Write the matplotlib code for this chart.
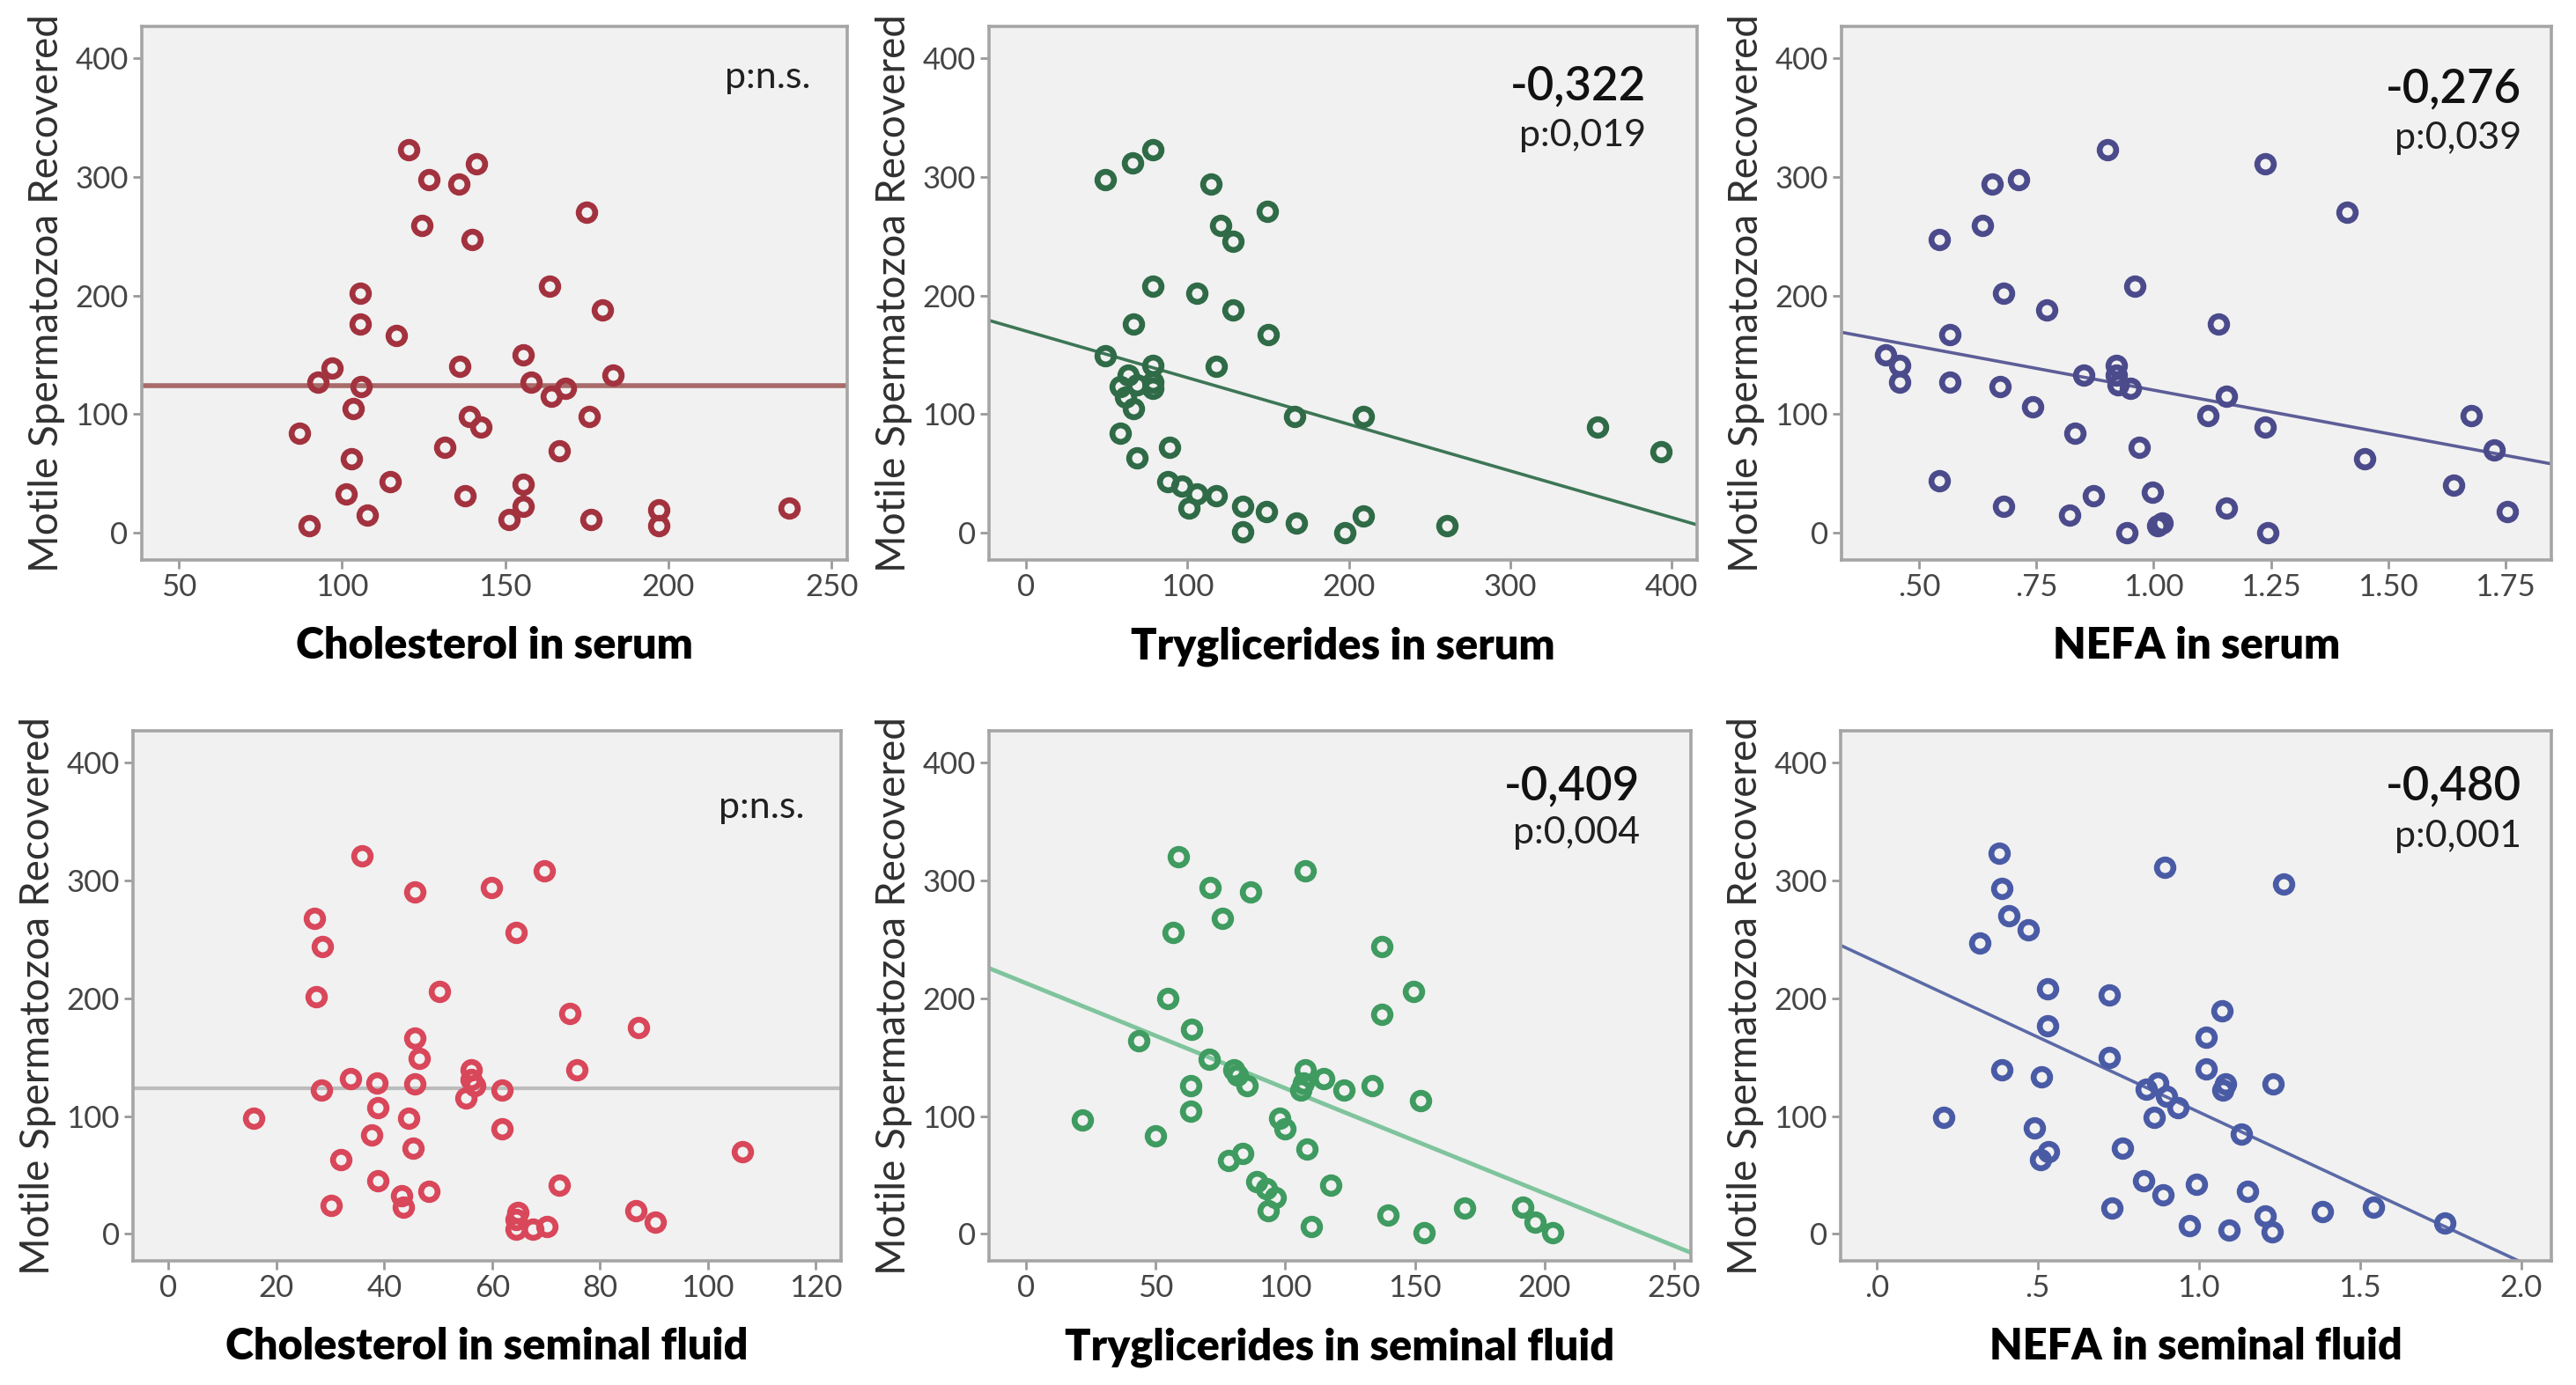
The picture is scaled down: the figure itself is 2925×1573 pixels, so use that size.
import numpy as np
import matplotlib.pyplot as plt
from matplotlib.ticker import FixedLocator, FixedFormatter

plt.rcParams['font.family'] = ['Lato', 'DejaVu Sans']

# ---- data ----
# top row: serum
chol_serum_x = [120.5, 126.7, 135.9, 141.2, 124.5, 139.8, 175, 105.5, 105.5, 116.5, 163.6, 179.8,
                155.5, 97, 92.6, 136, 105.9, 158, 164, 168.3, 183, 103.3, 175.7, 139, 142.4, 86.8,
                131.4, 166.6, 102.9, 114.7, 155.5, 155.5, 101.2, 137.6, 107.8, 196.9, 196.9, 90,
                151.1, 176.2, 237]
chol_serum_y = [323, 298, 294, 311, 259, 247, 270, 202, 176, 166, 208, 188,
                150, 139, 127, 140, 123, 127, 115, 122, 133, 105, 98, 98, 89, 84,
                72, 69, 62, 43, 41, 22, 33, 31, 15, 19, 6, 6,
                11, 11, 21]

tg_serum_x = [48.8, 65.9, 78.8, 114.7, 149.3, 120.7, 128, 78.8, 105.7, 128, 66.3, 150, 48.8,
              78.8, 117.9, 63.5, 58.6, 68.7, 78.8, 78.8, 61.7, 66.3, 166.3, 208.9, 58.6, 88.9,
              68.7, 87.9, 96.6, 106, 117.9, 101.1, 134.3, 148.9, 167.4, 134.3, 197.7, 208.9,
              260.9, 354, 393.4]
tg_serum_y = [298, 312, 323, 294, 271, 259, 246, 208, 202, 188, 176, 167, 149,
              141, 140, 133, 123, 125, 127, 122, 114, 105, 98, 98, 84, 72,
              63, 43, 39, 33, 31, 21, 22, 18, 8, 1, 0, 14,
              6, 89, 68]

nefa_serum_x = [0.902, 1.237, 0.655, 0.712, 0.634, 0.542, 1.412, 0.680, 0.959, 0.772, 1.138,
                0.566, 0.428, 0.458, 0.458, 0.566, 0.673, 0.742, 0.850, 0.920, 0.920, 0.925,
                0.950, 1.156, 1.116, 1.237, 0.832, 0.970, 1.678, 1.726, 1.450, 0.542, 0.680,
                0.871, 0.997, 0.821, 1.156, 0.943, 1.009, 1.018, 1.244, 1.640, 1.754]
nefa_serum_y = [323, 311, 294, 298, 259, 247, 270, 202, 208, 188, 176,
                167, 150, 141, 127, 127, 123, 106, 133, 141, 133, 125,
                122, 115, 99, 89, 84, 72, 99, 70, 62, 44, 22,
                31, 34, 15, 21, 0, 6, 8, 0, 40, 18]

# bottom row: seminal fluid
chol_sem_x = [35.8, 69.6, 45.6, 59.8, 27.1, 28.5, 64.4, 27.4, 50.2, 74.4, 87.1, 45.7, 46.4,
              75.7, 56.1, 56.1, 33.8, 38.6, 45.6, 56.7, 28.3, 61.9, 55.1, 15.8, 38.8, 44.5,
              61.8, 37.6, 45.3, 32.0, 106.4, 38.8, 43.2, 43.5, 48.3, 30.1, 72.5, 64.7, 64.5,
              67.6, 70.1, 64.4, 86.6, 90.3]
chol_sem_y = [321, 308, 290, 294, 268, 244, 256, 201, 206, 187, 175, 166, 149,
              139, 139, 131, 132, 128, 127, 126, 122, 122, 115, 98, 107, 98,
              89, 84, 73, 63, 70, 45, 32, 23, 36, 24, 41, 18, 12,
              4, 6, 4, 20, 10]

tg_sem_x = [58.7, 70.9, 86.7, 107.8, 75.7, 56.7, 137.2, 149.6, 54.8, 137.2, 63.9, 43.5, 70.7,
            80.2, 81.5, 85.2, 63.7, 107.8, 115, 122.6, 133.5, 105.9, 107, 152.2, 63.7, 21.7,
            97.8, 100, 49.8, 108.3, 78, 83.7, 89.1, 92.8, 96.1, 93.5, 117.4, 110.2, 139.8,
            153.5, 169.3, 191.7, 196.5, 203.3]
tg_sem_y = [320, 294, 290, 308, 268, 256, 244, 206, 200, 186, 174, 164, 148,
            139, 135, 126, 126, 139, 132, 122, 126, 122, 128, 113, 104, 97,
            98, 89, 83, 72, 62, 68, 44, 38, 31, 20, 41, 6, 16,
            1, 22, 23, 10, 1]

nefa_sem_x = [0.380, 0.389, 0.895, 1.262, 0.410, 0.471, 0.321, 0.531, 0.723, 1.073, 0.531,
              1.023, 0.723, 0.389, 1.023, 0.511, 1.082, 1.075, 1.230, 0.873, 0.838, 0.901,
              0.934, 0.862, 0.209, 0.489, 1.131, 0.534, 0.510, 0.764, 0.829, 0.993, 0.890,
              1.152, 0.730, 0.970, 1.093, 1.206, 1.229, 1.384, 1.541, 1.764]
nefa_sem_y = [323, 293, 311, 297, 270, 258, 247, 208, 203, 189, 177,
              167, 150, 139, 140, 133, 127, 122, 127, 128, 123, 117,
              107, 99, 99, 90, 85, 70, 63, 73, 45, 42, 33,
              36, 22, 7, 3, 15, 2, 19, 23, 9]

x_labels = ['Cholesterol in serum', 'Tryglicerides in serum', 'NEFA in serum',
            'Cholesterol in seminal fluid', 'Tryglicerides in seminal fluid', 'NEFA in seminal fluid']
y_label = 'Motile Spermatozoa Recovered'

# fit line (intercept, slope)
fit_intercepts = [124, 170, 193.5, 123.5, 212.8, 230.7]
fit_slopes = [0, -0.393, -73.3, 0, -0.892, -127.3]

r_texts = [None, '-0,322', '-0,276', None, '-0,409', '-0,480']
p_texts = ['p:n.s.', 'p:0,019', 'p:0,039', 'p:n.s.', 'p:0,004', 'p:0,001']

x_ticks = [[50, 100, 150, 200, 250], [0, 100, 200, 300, 400],
           [0.5, 0.75, 1.0, 1.25, 1.5, 1.75],
           [0, 20, 40, 60, 80, 100, 120], [0, 50, 100, 150, 200, 250],
           [0.0, 0.5, 1.0, 1.5, 2.0]]
x_tick_labels = [['50', '100', '150', '200', '250'], ['0', '100', '200', '300', '400'],
                 ['.50', '.75', '1.00', '1.25', '1.50', '1.75'],
                 ['0', '20', '40', '60', '80', '100', '120'], ['0', '50', '100', '150', '200', '250'],
                 ['.0', '.5', '1.0', '1.5', '2.0']]
x_limits = [(38.6, 254.7), (-23, 415.7), (0.3345, 1.848),
            (-6.6, 124.7), (-14.3, 256.5), (-0.112, 2.094)]
y_ticks = [0, 100, 200, 300, 400]

xs = [chol_serum_x, tg_serum_x, nefa_serum_x, chol_sem_x, tg_sem_x, nefa_sem_x]
ys = [chol_serum_y, tg_serum_y, nefa_serum_y, chol_sem_y, tg_sem_y, nefa_sem_y]

# ---- styles ----
marker_colors = ['#a3323f', '#2f6b47', '#4b4b8c', '#d9475a', '#3f9b60', '#4a5ba6']
line_colors = ['#a86a6a', '#3d7656', '#5d5d98', '#bcbcbc', '#7fc49c', '#5b6aa6']
line_widths = [4, 2.6, 2.6, 3, 3.5, 2.6]
rects = [[0.0550, 0.5957, 0.2738, 0.3853], [0.3839, 0.5957, 0.2749, 0.3853],
         [0.7149, 0.5957, 0.2755, 0.3853],
         [0.0516, 0.0896, 0.2749, 0.3827], [0.3839, 0.0896, 0.2725, 0.3827],
         [0.7145, 0.0896, 0.2759, 0.3827]]
p_pos = [(0.948, 0.904), (0.928, 0.795), (0.958, 0.79),
         (0.948, 0.855), (0.928, 0.807), (0.958, 0.80)]
r_pos = [None, (0.928, 0.887), (0.958, 0.882), None, (0.928, 0.895), (0.958, 0.895)]

fig = plt.figure(figsize=(29.25, 15.73), dpi=100)

for i in range(6):
    ax = fig.add_axes(rects[i])
    ax.set_facecolor('#f1f1f1')
    ax.plot(xs[i], ys[i], linestyle='none', marker='o', markersize=13.5,
            markerfacecolor='none', markeredgecolor=marker_colors[i], markeredgewidth=4.8, zorder=3)
    ax.axline((0, fit_intercepts[i]), slope=fit_slopes[i], color=line_colors[i],
              linewidth=line_widths[i], zorder=2)
    ax.set_xlim(x_limits[i])
    ax.set_ylim(-23, 427)
    ax.xaxis.set_major_locator(FixedLocator(x_ticks[i]))
    ax.xaxis.set_major_formatter(FixedFormatter(x_tick_labels[i]))
    ax.set_yticks(y_ticks)
    ax.tick_params(axis='both', colors='#9a9a9a', labelcolor='#454545', labelsize=25,
                   length=7, width=2, pad=4)
    for s in ax.spines.values():
        s.set_color('#a5a5a5')
        s.set_linewidth(2.6)
    ax.set_xlabel(x_labels[i], fontsize=35, fontweight='heavy', labelpad=20)
    ax.set_ylabel(y_label, fontsize=33, color='#303030', labelpad=8)
    ax.text(p_pos[i][0], p_pos[i][1], p_texts[i], transform=ax.transAxes,
            ha='right', va='center', fontsize=31, color='#202020')
    if r_texts[i]:
        ax.text(r_pos[i][0], r_pos[i][1], r_texts[i], transform=ax.transAxes,
                ha='right', va='center', fontsize=38, fontweight='semibold', color='#111111')

fig.savefig('out.png', dpi=100, facecolor='white')
